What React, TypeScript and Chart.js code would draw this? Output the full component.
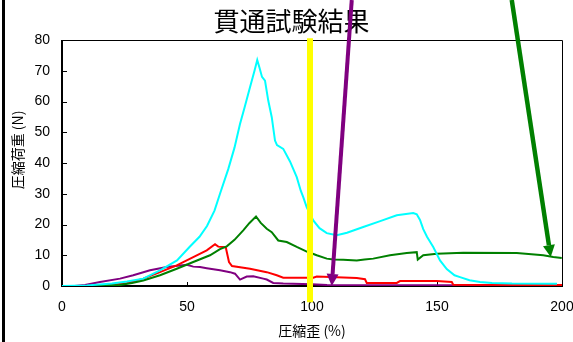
import React, { useEffect, useRef } from "react";
import { Chart, registerables } from "chart.js";

Chart.register(...registerables);

// Penetration test: compressive load (N) against compressive strain (%)
const TITLE = "貫通試験結果";
const X_TITLE = "圧縮歪 (%)";
const Y_TITLE = "圧縮荷重 (N)";

const X_TICKS = [0, 50, 100, 150, 200];
const Y_TICKS = [0, 10, 20, 30, 40, 50, 60, 70, 80];

// [strain %, load N]
const sampleCyan: [number, number][] = [
  [0, 0], [10, 0.2], [20, 0.8], [26, 1.5], [32.5, 2.4], [39, 5], [46, 8.3], [51, 12.7],
  [55, 16], [58, 19.5], [61, 24.5], [63.2, 30], [66.5, 38], [69, 45], [71.2, 52.7],
  [73, 58], [75.2, 64.6], [77, 70], [78.1, 73.5], [79, 71], [80, 68], [81.2, 66.8],
  [82.5, 60.3], [83.9, 54.9], [85.2, 47.3], [86, 45.8], [88.5, 44.6], [91.2, 40.5],
  [93.9, 35.4], [95.5, 31], [96.5, 28.9], [97.9, 25.6], [100.5, 21.3], [103, 18.8],
  [105.9, 17.2], [109.9, 16.5], [114, 17.3], [120.5, 19.2], [127, 21], [133.9, 23],
  [140.5, 23.7], [141.9, 23.3], [143.2, 21.5], [144.5, 18.5], [146, 16], [148.5, 12.7],
  [151.2, 8.3], [153.9, 5.5], [157, 3.5], [159.2, 2.9], [163, 1.9], [167.2, 1.3],
  [172, 1], [180, 0.8], [198, 0.7],
];

const sampleGreen: [number, number][] = [
  [10, 0], [23, 0.3], [28, 1], [32.5, 1.8], [39.2, 3.5], [45.9, 5.6], [52.5, 7.8],
  [59.2, 10], [63.2, 12], [65.9, 12.9], [69, 15], [72.5, 18.1], [75, 20.5], [77.6, 22.6],
  [79.5, 20.5], [81.9, 18.6], [83.9, 17.5], [86.5, 14.8], [89.9, 14.3], [93.9, 12.7],
  [97.9, 11.2], [101.9, 10], [105.9, 8.9], [108.5, 8.6], [112.5, 8.5], [117.9, 8.3],
  [121, 8.6], [124.5, 8.9], [131.2, 10], [137.9, 10.7], [141.9, 11], [142.3, 8.6],
  [144.5, 10], [149.9, 10.5], [160.5, 10.8], [181.9, 10.7], [192.5, 10], [196.5, 9.4],
  [199.9, 9.1],
];

const sampleRed: [number, number][] = [
  [15, 0.1], [20, 0.4], [25.9, 0.9], [32.5, 2.4], [39.2, 4.5], [45.9, 6.7], [52.5, 9.4],
  [57.9, 11.6], [61.2, 13.6], [62.5, 12.8], [65.5, 12.6], [66.2, 10], [66.8, 7.8],
  [68, 6.5], [75.2, 5.6], [81.9, 4.5], [85.9, 3.5], [88.5, 2.7], [100.5, 2.7],
  [101.9, 3.1], [117.9, 2.6], [121.2, 2.2], [121.9, 1.0], [133.9, 1.0], [135.2, 1.6],
  [149.9, 1.6], [155.9, 1.3], [156.5, 0.4], [200, 0.3],
];

const samplePurple: [number, number][] = [
  [5, 0], [9.2, 0.3], [15.2, 1.3], [23.2, 2.4], [28.5, 3.5], [35.2, 5.1], [41.9, 6.2],
  [49.9, 6.9], [52.5, 6.3], [55.2, 6.2], [57.9, 5.8], [63.2, 5.1], [67.2, 4.5],
  [69.2, 4.0], [71.2, 2.1], [73.9, 3.1], [76.5, 3.2], [80.5, 2.4], [81.9, 2.1],
  [84.5, 1.0], [88.5, 0.8], [100, 0.6], [106, 0.3], [200, 0.2],
];

// Marker line and arrows, in data units [strain, load]
const markerLine: [number, number][] = [[99.2, 80.6], [99.2, -5.3]];
const purpleArrow: [number, number][] = [[115.9, 93], [107.9, 0]];
const greenArrow: [number, number][] = [[179.9, 93], [195.5, 9.4]];

const NUM_FONT = "'Liberation Sans', 'Noto Sans CJK JP', sans-serif";
const JP_FONT = "'Noto Sans CJK JP', 'Liberation Sans', sans-serif";

const toPoints = (arr: [number, number][]) => arr.map(([x, y]) => ({ x, y }));

const framePlugin = {
  id: "frame",
  beforeDatasetsDraw(chart: any) {
    const { ctx, chartArea } = chart;
    const { left, right, top, bottom } = chartArea;
    const xs = chart.scales.x;
    const ys = chart.scales.y;
    ctx.save();
    ctx.strokeStyle = "#000";
    // thin top / right border
    ctx.lineWidth = 1;
    ctx.beginPath();
    ctx.moveTo(left, top + 0.5);
    ctx.lineTo(right + 0.5, top + 0.5);
    ctx.lineTo(right + 0.5, bottom);
    ctx.stroke();
    // inward tick marks
    ctx.lineWidth = 1;
    ctx.beginPath();
    Y_TICKS.forEach((v) => {
      const py = Math.round(ys.getPixelForValue(v)) + 0.5;
      ctx.moveTo(left, py);
      ctx.lineTo(left + 5, py);
    });
    X_TICKS.forEach((v) => {
      const px = Math.round(xs.getPixelForValue(v)) + 0.5;
      ctx.moveTo(px, bottom);
      ctx.lineTo(px, bottom - 4);
    });
    ctx.stroke();
    // heavy left / bottom axes
    ctx.lineWidth = 2;
    ctx.beginPath();
    ctx.moveTo(left, top);
    ctx.lineTo(left, bottom);
    ctx.lineTo(right + 1, bottom);
    ctx.stroke();
    ctx.restore();
  },
  afterDraw(chart: any) {
    const { ctx, chartArea } = chart;
    const xs = chart.scales.x;
    const ys = chart.scales.y;
    const px = (p: [number, number]) => [xs.getPixelForValue(p[0]), ys.getPixelForValue(p[1])];
    ctx.save();

    // axis titles
    ctx.fillStyle = "#000";
    ctx.textAlign = "center";
    ctx.textBaseline = "middle";
    ctx.font = `14px ${JP_FONT}`;
    ctx.fillText(X_TITLE, (chartArea.left + chartArea.right) / 2, 331);
    ctx.save();
    ctx.translate(18, 150);
    ctx.rotate(-Math.PI / 2);
    ctx.font = `14px ${JP_FONT}`;
    ctx.fillText(Y_TITLE, 0, 0);
    ctx.restore();

    // left page rule
    ctx.fillStyle = "#000";
    ctx.fillRect(2, 0, 3, chart.height);

    // yellow marker line
    const [m0x, m0y] = px(markerLine[0]);
    const [m1x, m1y] = px(markerLine[1]);
    ctx.strokeStyle = "#FFFF00";
    ctx.lineWidth = 6;
    ctx.lineCap = "butt";
    ctx.beginPath();
    ctx.moveTo(m0x, m0y);
    ctx.lineTo(m1x, m1y);
    ctx.stroke();

    const drawArrow = (pts: [number, number][], color: string, width: number) => {
      const [sx, sy] = px(pts[0]);
      const [ex, ey] = px(pts[1]);
      const ang = Math.atan2(ey - sy, ex - sx);
      const headLen = 12;
      const headHalf = 6;
      const bx = ex - headLen * Math.cos(ang);
      const by = ey - headLen * Math.sin(ang);
      ctx.strokeStyle = color;
      ctx.fillStyle = color;
      ctx.lineWidth = width;
      ctx.beginPath();
      ctx.moveTo(sx, sy);
      ctx.lineTo(bx, by);
      ctx.stroke();
      ctx.beginPath();
      ctx.moveTo(ex, ey);
      ctx.lineTo(bx + headHalf * Math.sin(ang), by - headHalf * Math.cos(ang));
      ctx.lineTo(bx - headHalf * Math.sin(ang), by + headHalf * Math.cos(ang));
      ctx.closePath();
      ctx.fill();
    };
    drawArrow(purpleArrow, "#800080", 4);
    drawArrow(greenArrow, "#008000", 4.5);
    ctx.restore();
  },
};

export default function App() {
  const ref = useRef<HTMLCanvasElement | null>(null);

  useEffect(() => {
    if (!ref.current) return;
    const mk = (label: string, arr: [number, number][], color: string) => ({
      label,
      data: toPoints(arr),
      borderColor: color,
      backgroundColor: color,
      borderWidth: 2,
      pointRadius: 0,
      showLine: true,
      tension: 0,
      fill: false,
    });
    const chart = new Chart(ref.current, {
      type: "scatter",
      data: {
        datasets: [
          mk("試料A", sampleCyan, "#00FFFF"),
          mk("試料B", sampleGreen, "#008000"),
          mk("試料C", sampleRed, "#FF0000"),
          mk("試料D", samplePurple, "#800080"),
        ],
      },
      options: {
        responsive: false,
        animation: false,
        layout: { padding: { left: 21, right: 11, top: 0, bottom: 0 } },
        plugins: {
          legend: { display: false },
          tooltip: { enabled: false },
          title: {
            display: true,
            text: TITLE,
            color: "#000",
            font: { family: JP_FONT, size: 26, weight: "normal", lineHeight: 1.2 },
            padding: { top: 6, bottom: 2.8 },
          },
        },
        scales: {
          x: {
            type: "linear",
            min: 0,
            max: 200,
            afterFit: (s: any) => {
              s.height = 56;
              s.paddingLeft = 0;
              s.paddingRight = 0;
            },
            afterBuildTicks: (s: any) => { s.ticks = X_TICKS.map((v) => ({ value: v })); },
            grid: { display: false, drawTicks: false },
            border: { display: false },
            ticks: {
              color: "#000",
              padding: 13,
              maxRotation: 0,
              font: { family: NUM_FONT, size: 14 },
            },
          },
          y: {
            type: "linear",
            min: 0,
            max: 80,
            afterFit: (s: any) => {
              s.width = 41;
              s.paddingTop = 0;
              s.paddingBottom = 0;
            },
            afterBuildTicks: (s: any) => { s.ticks = Y_TICKS.map((v) => ({ value: v })); },
            grid: { display: false, drawTicks: false },
            border: { display: false },
            ticks: {
              color: "#000",
              padding: 12,
              font: { family: NUM_FONT, size: 14 },
            },
          },
        },
      },
      plugins: [framePlugin],
    });
    return () => chart.destroy();
  }, []);

  return (
    <div style={{ position: "fixed", left: 0, top: 0, width: 573, height: 342, background: "#fff" }}>
      <canvas ref={ref} width={573} height={342} style={{ display: "block" }} />
    </div>
  );
}
